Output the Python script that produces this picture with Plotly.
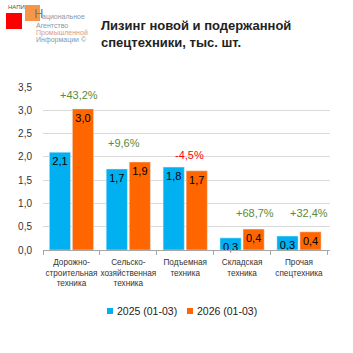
import plotly.graph_objects as go

categories = ["Дорожно-<br>строительная<br>техника", "Сельско-<br>хозяйственная<br>техника",
              "Подъемная<br>техника", "Складская<br>техника", "Прочая<br>спецтехника"]
vals_2025 = [2.10, 1.74, 1.78, 0.26, 0.30]
vals_2026 = [3.03, 1.89, 1.70, 0.45, 0.39]
labels_2025 = ["2,1", "1,7", "1,8", "0,3", "0,3"]
labels_2026 = ["3,0", "1,9", "1,7", "0,4", "0,4"]
changes = ["+43,2%", "+9,6%", "-4,5%", "+68,7%", "+32,4%"]
change_y = [3.33, 2.30, 2.04, 0.79, 0.79]
change_dx = [8, -4, 4, 13, 10]
series_names = ["2025 (01-03)", "2026 (01-03)"]
colors = ["#00B0F0", "#FF6600"]

FONT = "Liberation Sans"
fig = go.Figure()
for vals, labs, name, col in zip([vals_2025, vals_2026], [labels_2025, labels_2026], series_names, colors):
    fig.add_trace(go.Bar(x=categories, y=vals, name=name, marker_color=col,
                         text=labs, textposition="inside", insidetextanchor="end",
                         textfont=dict(color="black", size=11, family=FONT), textangle=0,
                         cliponaxis=False, constraintext="none", showlegend=False))

for i, (c, yv, dx) in enumerate(zip(changes, change_y, change_dx)):
    fig.add_annotation(x=categories[i], y=yv, text=c, showarrow=False, xshift=dx,
                       font=dict(size=11, family=FONT, color="#FF0000" if c.startswith("-") else "#5B8A3A"))

def px_x(x): return (x-43)/287
def px_y(y): return (250-y)/163

# manual legend
leg_x = [107, 187]
for name, col, lx in zip(series_names, colors, leg_x):
    fig.add_shape(type="rect", xref="paper", yref="paper", x0=px_x(lx), x1=px_x(lx+6),
                  y0=px_y(314), y1=px_y(308), fillcolor=col, line_width=0)
    fig.add_annotation(xref="paper", yref="paper", x=px_x(lx+8), y=px_y(311), xanchor="left",
                       yanchor="middle", text=name, showarrow=False,
                       font=dict(size=10.5, family=FONT, color="#222222"))

# logo
fig.add_shape(type="rect", xref="paper", yref="paper", x0=px_x(6), x1=px_x(22), y0=px_y(29), y1=px_y(13),
              fillcolor="#FF0000", line_width=0, layer="above")
fig.add_shape(type="rect", xref="paper", yref="paper", x0=px_x(25), x1=px_x(40), y0=px_y(21), y1=px_y(5),
              fillcolor="#F79646", line_width=0, layer="above")
fig.add_annotation(xref="paper", yref="paper", x=px_x(6), y=px_y(7), xanchor="left", yanchor="middle",
                   text="НАПИ", showarrow=False, font=dict(size=6, family=FONT, color="#555555"))
fig.add_annotation(xref="paper", yref="paper", x=px_x(32), y=px_y(14), xanchor="left", yanchor="middle",
                   text="Н", showarrow=False, font=dict(size=13, family=FONT, color="#6E7B8B"))
logo_lines = ["ациональное", "Агентство", "Промышленной", "Информации ©"]
logo_cols = ["#8A96A8", "#8A96A8", "#D79A8A", "#8A96A8"]
logo_ys = [17, 26, 33, 40]
logo_xs = [40, 34, 34, 34]
for t, col, yy, xx in zip(logo_lines, logo_cols, logo_ys, logo_xs):
    fig.add_annotation(xref="paper", yref="paper", x=px_x(xx), y=px_y(yy),
                       xanchor="left", yanchor="middle", text=t, showarrow=False,
                       font=dict(size=7, family=FONT, color=col))

fig.update_layout(
    width=353, height=353, margin=dict(l=43, r=23, t=87, b=103, autoexpand=False),
    paper_bgcolor="white", plot_bgcolor="white",
    separators=", ", barmode="group", bargap=0.19, bargroupgap=0.08,
    font=dict(family=FONT, size=10, color="#333333"),
    showlegend=False,
    uniformtext=dict(minsize=11, mode="show"),
    title=dict(text="<b>Лизинг новой и подержанной<br>спецтехники, тыс. шт.</b>",
               xref="container", yref="container", x=101/353, xanchor="left",
               y=1-30/353, yanchor="middle", font=dict(size=13, family=FONT, color="#222222")),
    yaxis=dict(range=[0, 3.5], dtick=0.5, tickformat=".1f", gridcolor="#D9D9D9", gridwidth=1,
               zeroline=False, showline=False, tickfont=dict(size=10, family=FONT, color="#333333"),
               ticks="", ticklabelstandoff=10),
    xaxis=dict(showline=True, linecolor="#A6A6A6", ticks="outside", tickson="boundaries",
               ticklen=4, tickcolor="#A6A6A6", tickfont=dict(size=8.2, family=FONT, color="#333333"),
               tickangle=0, ticklabelstandoff=4),
)
fig.write_html("out.html")
